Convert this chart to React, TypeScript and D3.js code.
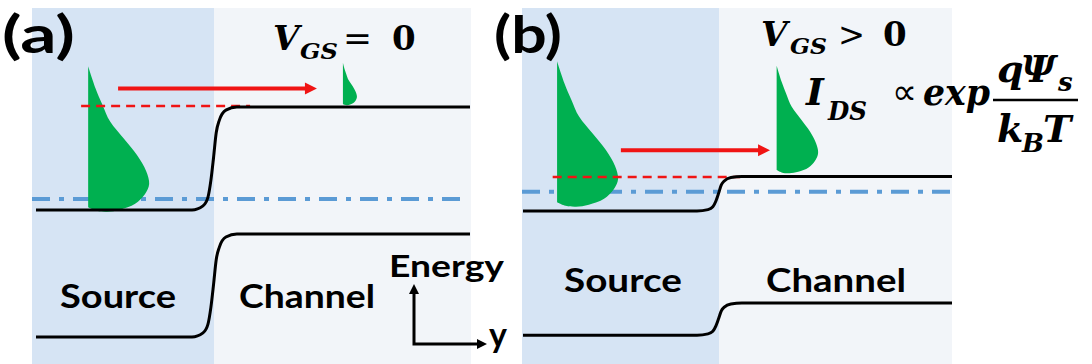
import * as d3 from "d3";
import { useEffect, useRef } from "react";

// ---- values ----
const panelLabels = ["(a)", "(b)"];
const regionLabels = ["Source", "Channel"];
const gateSign = ["=", ">"];

// band edges (energy units): [source, channel]
const conductionBand = [
  [1.38, 2.5],
  [1.37, 1.745],
];
const valenceBand = [
  [0.0, 1.12],
  [0.02, 0.37],
];
const fermiLevel = [1.5, 1.58];
const barrierLevel = [2.51, 1.74]; // red dashed
const barrierSpan = [
  [-30.2, 8.2],
  [-37.8, 4.8],
]; // nm
const injectLevel = [2.7, 2.03]; // red arrow
const injectSpan = [
  [-21.8, 23.4],
  [-22.3, 11.6],
]; // nm

// electron distributions (source, channel) per panel
const distPos = [
  [-28.6, 29.3],
  [-36.8, 13.1],
];
const distBase = [
  [1.362, 2.52],
  [1.416, 1.779],
];
const distHeight = [
  [1.58, 0.46],
  [1.58, 1.17],
];
const distPeak = [
  [1.0, 0.23],
  [1.0, 0.68],
];

// normalized band-bending step: [nm from junction, fraction]
const stepShape: [number, number][] = [
  [-5, 0],
  [-2.5, 0.04],
  [-1.4, 0.12],
  [-0.7, 0.29],
  [-0.1, 0.51],
  [0.5, 0.75],
  [1.2, 0.87],
  [2.7, 0.97],
  [5.2, 1],
];
// normalized drop outline: [height fraction, width fraction], top -> bottom
const dropShape: [number, number][] = [
  [1.0, 0],
  [0.85, 0.12],
  [0.74, 0.23],
  [0.62, 0.36],
  [0.5, 0.59],
  [0.39, 0.8],
  [0.28, 0.95],
  [0.19, 1.0],
  [0.12, 0.93],
  [0.055, 0.77],
  [0.014, 0.52],
  [0, 0.31],
  [0.008, 0.12],
  [0.03, 0],
];

// ---- layout ----
const panelX = [
  [32, 214, 471],
  [522, 719, 952],
]; // bg left, junction, bg right
const lineX = [
  [36, 470],
  [523, 952],
];
const pxPerNm = 4.4;
const mathFont = "'DejaVu Serif', serif";
const labelFont = "Lato, 'Open Sans', sans-serif";

export default function App() {
  const svgRef = useRef<SVGSVGElement | null>(null);
  const width = 1092;
  const height = 364;

  useEffect(() => {
    if (!svgRef.current) return;
    const svg = d3.select(svgRef.current);
    svg.selectAll("*").remove();

    svg.append("rect").attr("width", width).attr("height", height).attr("fill", "#fff");

    const yE = d3.scaleLinear().domain([0, 2.5]).range([337, 107]);
    const densityPx = d3.scaleLinear().domain([0, 1]).range([0, 61]);

    const text = (
      g: d3.Selection<any, unknown, null, undefined>,
      s: string,
      x: number,
      y: number,
      size: number,
      opts: { font?: string; italic?: boolean; len?: number; weight?: string } = {}
    ) => {
      const t = g
        .append("text")
        .attr("x", x)
        .attr("y", y)
        .attr("font-family", opts.font ?? labelFont)
        .attr("font-size", size)
        .attr("font-weight", opts.weight ?? "bold")
        .attr("font-style", opts.italic ? "italic" : "normal")
        .attr("fill", "#000")
        .text(s);
      if (opts.len) t.attr("textLength", opts.len).attr("lengthAdjust", "spacingAndGlyphs");
      return t;
    };

    const arrowHead = (
      g: d3.Selection<any, unknown, null, undefined>,
      tx: number,
      ty: number,
      dir: "right" | "up",
      len: number,
      half: number,
      fill: string
    ) => {
      const pts =
        dir === "right"
          ? [[tx, ty], [tx - len, ty - half], [tx - len, ty + half]]
          : [[tx, ty], [tx - half, ty + len], [tx + half, ty + len]];
      g.append("polygon").attr("points", pts.map((p) => p.join(",")).join(" ")).attr("fill", fill);
    };

    panelLabels.forEach((label, i) => {
      const [bgLeft, junction, bgRight] = panelX[i];
      const x = d3.scaleLinear().domain([0, 1]).range([junction, junction + pxPerNm]);
      const g = svg.append("g");

      // regions
      g.append("rect")
        .attr("x", bgLeft)
        .attr("y", 8)
        .attr("width", junction - bgLeft)
        .attr("height", height - 8)
        .attr("fill", "#d6e4f4");
      g.append("rect")
        .attr("x", junction)
        .attr("y", 8)
        .attr("width", bgRight - junction)
        .attr("height", height - 8)
        .attr("fill", "#f2f5f9");

      const [n0, n1] = lineX[i].map((v) => x.invert(v));

      // Fermi level (dash-dot)
      g.append("line")
        .attr("x1", bgLeft)
        .attr("x2", lineX[i][1] - 2)
        .attr("y1", yE(fermiLevel[i]))
        .attr("y2", yE(fermiLevel[i]))
        .attr("stroke", "#5b9bd5")
        .attr("stroke-width", 4)
        .attr("stroke-dasharray", "18 9 5 9");

      // electron distributions
      const drop = d3.line<[number, number]>().curve(d3.curveCatmullRom.alpha(0.5));
      distPos[i].forEach((p, k) => {
        const pts = dropShape.map(
          ([h, w]) =>
            [
              x(p) + w * densityPx(distPeak[i][k]),
              yE(distBase[i][k] + h * distHeight[i][k]),
            ] as [number, number]
        );
        g.append("path").attr("d", drop(pts) + "Z").attr("fill", "#00b050");
      });

      // barrier top (red dashed)
      g.append("line")
        .attr("x1", x(barrierSpan[i][0]))
        .attr("x2", x(barrierSpan[i][1]))
        .attr("y1", yE(barrierLevel[i]))
        .attr("y2", yE(barrierLevel[i]))
        .attr("stroke", "#f01414")
        .attr("stroke-width", 2.5)
        .attr("stroke-dasharray", "9 6");

      // bands
      const bandLine = (edges: number[]) =>
        d3
          .line<[number, number]>()
          .x((d) => x(d[0]))
          .y((d) => yE(edges[0] + d[1] * (edges[1] - edges[0])))
          .curve(d3.curveMonotoneX)([[n0, 0], ...stepShape, [n1, 1]]);
      [conductionBand[i], valenceBand[i]].forEach((edges) => {
        g.append("path")
          .attr("d", bandLine(edges))
          .attr("fill", "none")
          .attr("stroke", "#000")
          .attr("stroke-width", 3);
      });

      // injection arrow
      const ay = yE(injectLevel[i]);
      const ax0 = x(injectSpan[i][0]);
      const ax1 = x(injectSpan[i][1]);
      g.append("line")
        .attr("x1", ax0)
        .attr("x2", ax1 - 10)
        .attr("y1", ay)
        .attr("y2", ay)
        .attr("stroke", "#f01414")
        .attr("stroke-width", 4);
      arrowHead(g, ax1, ay, "right", 12, 6, "#f01414");

      // labels
      if (i === 0) {
        text(g, label, 2, 53, 52, { len: 73 });
        text(g, regionLabels[0], 60, 308, 33, { len: 116 });
        text(g, regionLabels[1], 239, 308, 33, { len: 136 });
        text(g, "V", 273, 50, 34, { font: mathFont, italic: true });
        text(g, "GS", 300, 59, 23, { font: mathFont, italic: true, len: 38 });
        text(g, gateSign[i], 343, 50, 34, { font: mathFont, weight: "normal", len: 29 });
        text(g, "0", 392, 50, 34, { font: mathFont });
      } else {
        text(g, label, 494, 53, 52, { len: 68 });
        text(g, regionLabels[0], 564, 292, 33, { len: 118 });
        text(g, regionLabels[1], 766, 292, 33, { len: 140 });
        text(g, "V", 761, 46, 34, { font: mathFont, italic: true });
        text(g, "GS", 790, 54, 23, { font: mathFont, italic: true, len: 37 });
        text(g, gateSign[i], 838, 46, 34, { font: mathFont, weight: "normal", len: 27 });
        text(g, "0", 883, 46, 34, { font: mathFont });
      }
    });

    // current relation
    const f = svg.append("g");
    text(f, "I", 806, 105, 38, { font: mathFont, italic: true });
    text(f, "DS", 828, 120, 26, { font: mathFont, italic: true, len: 39 });
    text(f, "\u221D", 892, 104, 36, { font: "'DejaVu Sans', sans-serif", weight: "normal", len: 25 });
    text(f, "exp", 923, 105, 38, { font: mathFont, italic: true, len: 67 });
    f.append("line")
      .attr("x1", 993)
      .attr("x2", 1078)
      .attr("y1", 100)
      .attr("y2", 100)
      .attr("stroke", "#000")
      .attr("stroke-width", 2.5);
    text(f, "q", 997, 82, 38, { font: mathFont, italic: true });
    text(f, "\u03A8", 1021, 82, 38, { font: mathFont, italic: true });
    text(f, "s", 1058, 91, 26, { font: mathFont, italic: true });
    text(f, "k", 997, 142, 38, { font: mathFont, italic: true });
    text(f, "B", 1022, 152, 26, { font: mathFont, italic: true });
    text(f, "T", 1043, 142, 38, { font: mathFont, italic: true });

    // energy / position axes
    const ax = svg.append("g");
    text(ax, "Energy", 389, 277, 30, { len: 115 });
    text(ax, "y", 489, 347, 34);
    ax.append("path")
      .attr("d", "M414,292 L414,344 L478,344")
      .attr("fill", "none")
      .attr("stroke", "#000")
      .attr("stroke-width", 3);
    arrowHead(ax, 414, 284, "up", 10, 5, "#000");
    arrowHead(ax, 487, 344, "right", 10, 5, "#000");
  }, []);

  return (
    <svg
      ref={svgRef}
      width={width}
      height={height}
      style={{ position: "absolute", left: 0, top: 0, display: "block" }}
    />
  );
}
